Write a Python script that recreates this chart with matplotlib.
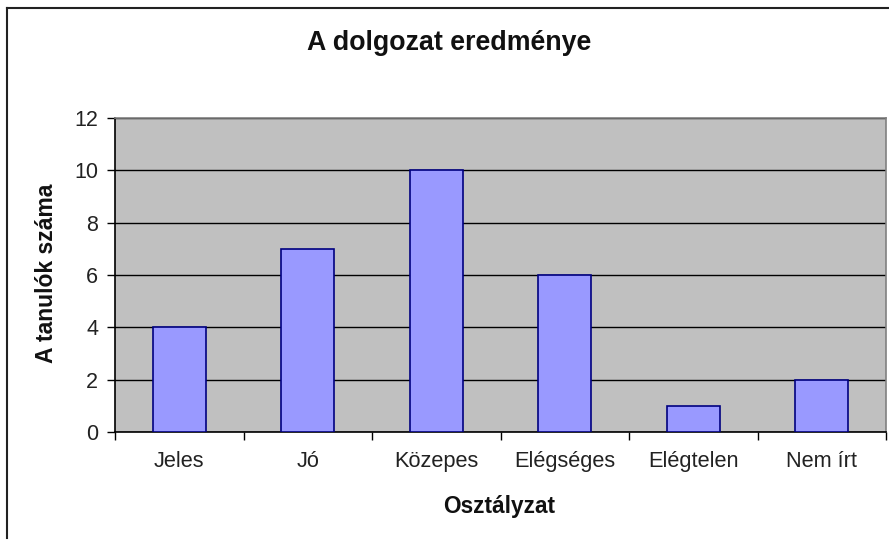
import matplotlib
matplotlib.use("Agg")
import matplotlib.pyplot as plt
from matplotlib.lines import Line2D
import numpy as np

categories = ["Jeles", "Jó", "Közepes", "Elégséges", "Elégtelen", "Nem írt"]
values = [4, 7, 10, 6, 1, 2]
yticks = [0, 2, 4, 6, 8, 10, 12]
title = "A dolgozat eredménye"
xlabel = "Osztályzat"
ylabel = "A tanulók száma"

plt.rcParams['font.family'] = ['Liberation Sans', 'DejaVu Sans']

W, H = 889, 543
fig = plt.figure(figsize=(W / 100, H / 100), dpi=100)
ax = fig.add_axes([115 / W, 1 - 432 / H, (886 - 115) / W, (432 - 118) / H])
ax.set_facecolor('#C0C0C0')

x = np.arange(len(categories)) + 0.5
ax.bar(x, values, width=0.41, color='#9999FF', edgecolor='#000080', linewidth=1.2, zorder=3)

ax.set_xlim(0, len(categories))
ax.set_ylim(0, 12)
ax.set_yticks(yticks)
ax.set_yticklabels([str(v) for v in yticks], fontsize=15.5, color='#222222')
ax.yaxis.grid(True, color='black', linewidth=1.0, zorder=1)
ax.set_axisbelow(True)

ax.set_xticks(np.arange(len(categories) + 1))
ax.set_xticklabels([])
ax.set_xticks(x, minor=True)
ax.set_xticklabels(categories, minor=True, fontsize=15.7, color='#222222')
ax.tick_params(axis='x', which='minor', length=0, pad=14)
ax.tick_params(axis='x', which='major', length=6, width=1, direction='out', color='black')
ax.tick_params(axis='y', length=6, width=1, direction='out', pad=6)

for s in ['top', 'right']:
    ax.spines[s].set_color('#808080')
    ax.spines[s].set_linewidth(1.2)
for s in ['left', 'bottom']:
    ax.spines[s].set_color('black')
    ax.spines[s].set_linewidth(1.2)

fig.text(449 / W, 1 - 43 / H, title, ha='center', va='center', fontsize=19.3, fontweight='bold', color='#111111')
fig.text(499 / W, 1 - 507 / H, xlabel, ha='center', va='center', fontsize=16.3, fontweight='bold', color='#111111')
fig.text(47 / W, 1 - 273 / H, ylabel, ha='center', va='center', rotation=90, fontsize=16.5, fontweight='bold', color='#111111')

# outer chart border (partially visible)
fig.add_artist(Line2D([7 / W, 7 / W], [1 - 538 / H, 1 - 8 / H], transform=fig.transFigure, color='#222222', linewidth=1.5))
fig.add_artist(Line2D([7 / W, 1.0], [1 - 8 / H, 1 - 8 / H], transform=fig.transFigure, color='#222222', linewidth=1.5))

fig.savefig("out.png", dpi=100)
